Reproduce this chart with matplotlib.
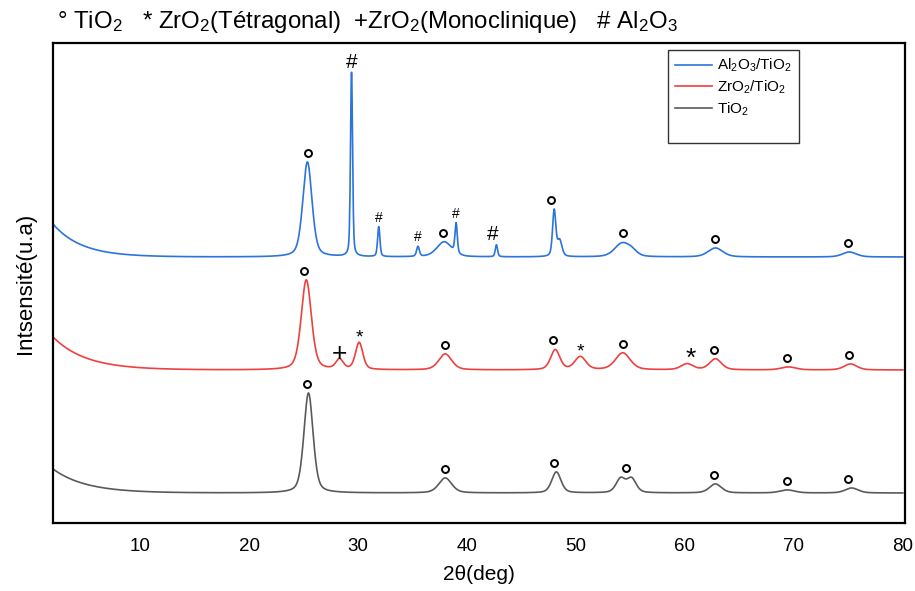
import numpy as np
import matplotlib
matplotlib.use("Agg")
import matplotlib.pyplot as plt
from matplotlib.lines import Line2D
from matplotlib.transforms import offset_copy

plt.rcParams['font.family'] = ['Liberation Sans', 'DejaVu Sans']
plt.rcParams['mathtext.fontset'] = 'custom'
plt.rcParams['mathtext.rm'] = 'Liberation Sans'
plt.rcParams['mathtext.it'] = 'Liberation Sans'

# 2theta grid of the scan
two_theta = np.linspace(2, 80, 3000)

# each pattern: background level, low-angle rise (amplitude, decay), peaks (2theta, height, fwhm)
al_base, al_rise, al_decay = 266, 33, 2.6
al_peaks = [(25.35, 95, 1.0), (29.4, 186, 0.22), (31.9, 30, 0.25), (35.5, 10, 0.3),
            (37.9, 15, 1.6), (39.0, 30, 0.25), (42.7, 12, 0.25), (48.0, 46, 0.35),
            (48.5, 16, 0.5), (54.2, 13, 1.6), (55.1, 5, 1.2), (62.8, 9, 1.6), (75.1, 5, 1.5)]
al_marks = [(25.4, 'o'), (29.4, '#big'), (31.9, '#'), (35.5, '#'), (37.8, 'o'), (39.0, '#'),
            (42.4, '#big'), (47.7, 'o'), (54.3, 'o'), (62.8, 'o'), (75.0, 'o')]

zr_base, zr_rise, zr_decay = 153, 33, 3.0
zr_peaks = [(25.25, 90, 1.1), (28.3, 10, 0.8), (30.1, 27, 0.8), (38.0, 16, 1.4),
            (48.1, 20, 1.0), (50.4, 13, 1.2), (54.3, 17, 1.6), (60.2, 6, 1.3),
            (62.8, 11, 1.3), (69.5, 3, 1.6), (75.2, 6, 1.4)]
zr_marks = [(25.0, 'o'), (28.3, '+'), (30.1, '*'), (38.0, 'o'), (47.9, 'o'), (50.4, '*'),
            (54.3, 'o'), (60.5, '*big'), (62.7, 'o'), (69.4, 'o'), (75.1, 'o')]

ti_base, ti_rise, ti_decay = 30, 24, 3.0
ti_peaks = [(25.45, 100, 1.0), (38.0, 15, 1.4), (48.2, 21, 1.0), (54.1, 14, 1.0),
            (55.1, 14, 1.0), (62.8, 9, 1.3), (69.4, 3, 1.6), (75.3, 5, 1.4)]
ti_marks = [(25.3, 'o'), (38.0, 'o'), (48.0, 'o'), (54.6, 'o'), (62.7, 'o'), (69.4, 'o'), (75.0, 'o')]

x_ticks = [10, 20, 30, 40, 50, 60, 70, 80]


def pattern(base, rise, decay, peaks):
    y = base + rise * np.exp(-(two_theta - 2) / decay)
    for c, h, w in peaks:
        g = np.exp(-4 * np.log(2) * ((two_theta - c) / w) ** 2)
        l = 1 / (1 + 4 * ((two_theta - c) / w) ** 2)
        y = y + h * (0.6 * g + 0.4 * l)
    return y


def label_peaks(ax, y, marks):
    circ = offset_copy(ax.transData, fig=ax.figure, x=0, y=9, units='dots')
    for pos, sym in marks:
        near = np.abs(two_theta - pos) < 0.45
        top = y[near].max()
        if sym == 'o':
            ax.plot(pos, top, 'o', ms=5, mfc='none', mec='black', mew=1.4, transform=circ)
            continue
        txt = sym.replace('big', '')
        size, off = (15, 10) if 'big' in sym else (10, 9)
        if txt == '+':
            size, off = 19, 4
        elif txt == '*':
            size, off = (size + 4, off - 5)
        ax.annotate(txt, (pos, top), xytext=(0, off), textcoords='offset pixels',
                    ha='center', va='center', fontsize=size)


fig = plt.figure(figsize=(9.15, 5.91), dpi=100)
ax = fig.add_axes([53 / 915, 68 / 591, 852 / 915, 480 / 591])

y_al = pattern(al_base, al_rise, al_decay, al_peaks)
y_zr = pattern(zr_base, zr_rise, zr_decay, zr_peaks)
y_ti = pattern(ti_base, ti_rise, ti_decay, ti_peaks)

ax.plot(two_theta, y_al, color='#2b74dc', lw=1.2, label='Al$_2$O$_3$/TiO$_2$')
ax.plot(two_theta, y_zr, color='#ef4040', lw=1.2, label='ZrO$_2$/TiO$_2$')
ax.plot(two_theta, y_ti, color='#5a5a5a', lw=1.2, label='TiO$_2$')

label_peaks(ax, y_al, al_marks)
label_peaks(ax, y_zr, zr_marks)
label_peaks(ax, y_ti, ti_marks)

ax.set_xlim(2, 80.2)
ax.set_ylim(0, 480)
ax.set_xticks(x_ticks)
ax.set_yticks([])
ax.tick_params(axis='x', length=0, pad=11, labelsize=13.5)
for s in ax.spines.values():
    s.set_linewidth(1.6)

ax.set_xlabel('2θ(deg)', fontsize=15, labelpad=7)
ax.set_ylabel('Intsensité(u.a)', fontsize=16, labelpad=12)

handles, labels = ax.get_legend_handles_labels()
handles.append(Line2D([], [], color='none'))
labels.append(' ')
leg = ax.legend(handles, labels, loc='upper left', bbox_to_anchor=(0.722, 0.985),
                fontsize=11, frameon=True, fancybox=False, edgecolor='black',
                handlelength=2.4, handletextpad=0.35, borderpad=0.45, labelspacing=0.28,
                borderaxespad=0)
leg.get_frame().set_linewidth(1.0)

fig.text(57 / 915, 1 - 22 / 591,
         '° TiO$_2$   * ZrO$_2$(Tétragonal)  +ZrO$_2$(Monoclinique)   # Al$_2$O$_3$',
         fontsize=17.3, ha='left', va='center')

fig.savefig('out.png', dpi=100)
